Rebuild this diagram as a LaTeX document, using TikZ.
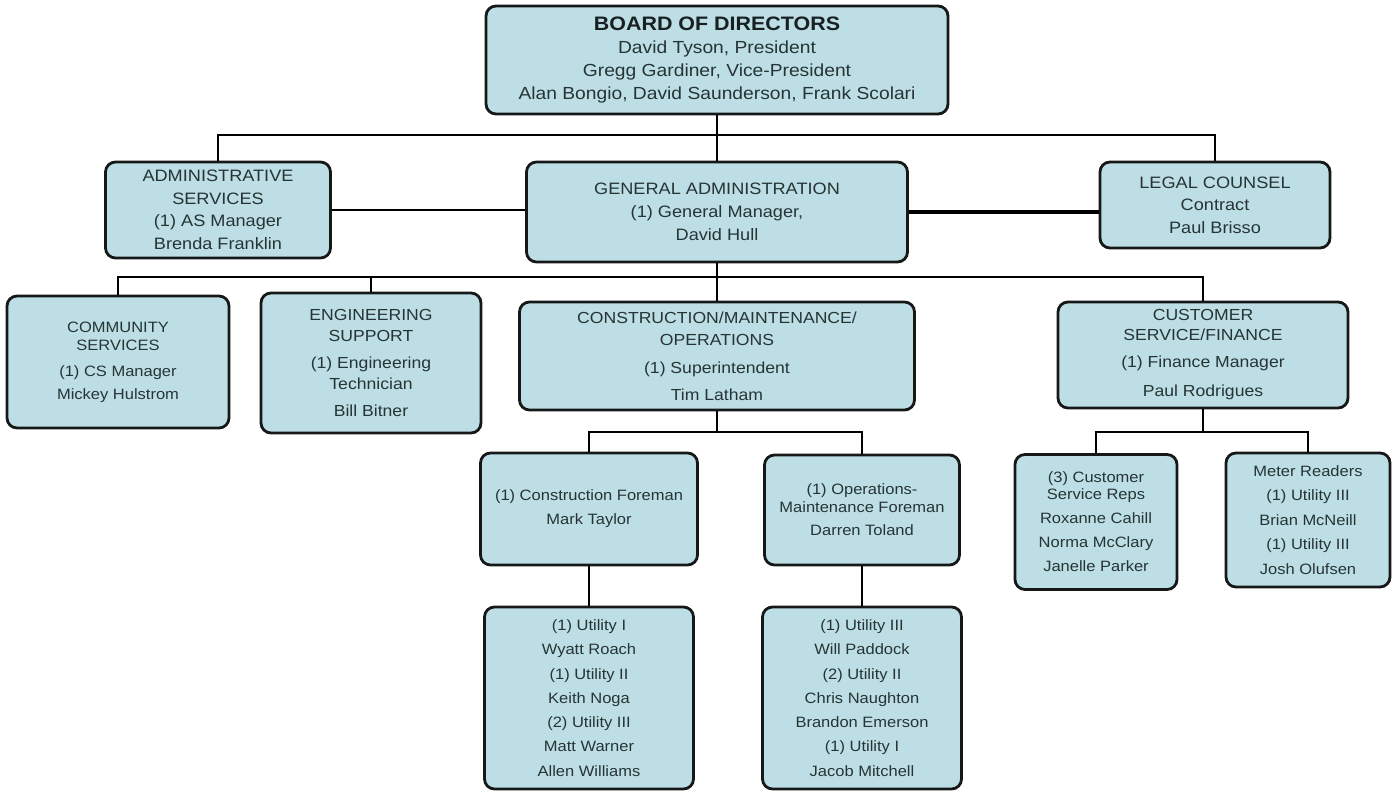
\documentclass[tikz,border=0pt]{standalone}
\usepackage{fontspec}
\setmainfont{Liberation Sans}[FakeStretch=1.1]
\definecolor{boxc}{RGB}{188,222,228}
\definecolor{txtc}{RGB}{38,52,54}
\definecolor{ttlc}{RGB}{24,32,34}
\definecolor{linec}{RGB}{22,24,24}
\newcommand{\fsz}[2]{\fontsize{#1}{#2}\selectfont}
\tikzset{
  orgbox/.style={draw=linec, line width=2.8pt, rounded corners=10pt, fill=boxc,
    text=txtc, align=center, inner sep=0pt},
  conn/.style={draw=black, line width=2.7pt},
  thickconn/.style={draw=black, line width=3.8pt}
}
\begin{document}
\begin{tikzpicture}[x=1pt,y=-1pt]
\useasboundingbox (0,0) rectangle (1395,792);
\fill[white] (0,0) rectangle (1395,792);

% junctions
\coordinate (j1) at (717,135);
\coordinate (j2) at (717,277);
\coordinate (j3) at (717,432);
\coordinate (j4) at (1203,432);

% nodes
\node[orgbox, minimum width=462pt, minimum height=108pt, font=\fsz{17.5}{23}] (board) at (717,60)
  {{\color{ttlc}\fontsize{19.5}{23}\selectfont\bfseries BOARD OF DIRECTORS}\\David Tyson, President\\Gregg Gardiner, Vice-President\\Alan Bongio, David Saunderson, Frank Scolari};

\node[orgbox, minimum width=225pt, minimum height=96pt, font=\fsz{16.5}{22.5}] (admin) at (218,210)
  {ADMINISTRATIVE\\SERVICES\\(1) AS Manager\\Brenda Franklin};
\node[orgbox, minimum width=381pt, minimum height=100pt, font=\fsz{16.5}{23}] (ga) at (717,212)
  {GENERAL ADMINISTRATION\\(1) General Manager,\\David Hull};
\node[orgbox, minimum width=230pt, minimum height=86pt, font=\fsz{16.5}{22.5}] (legal) at (1215,205)
  {LEGAL COUNSEL\\Contract\\Paul Brisso};

\node[orgbox, minimum width=222pt, minimum height=132pt, font=\fsz{15}{18}] (comm) at (118,362)
  {COMMUNITY\\SERVICES\\[8pt](1) CS Manager\\[5pt]Mickey Hulstrom};
\node[orgbox, minimum width=220pt, minimum height=140pt, font=\fsz{16}{20.5}] (eng) at (371,363)
  {ENGINEERING\\SUPPORT\\[7pt](1) Engineering\\Technician\\[6.5pt]Bill Bitner};
\node[orgbox, minimum width=395pt, minimum height=108pt, font=\fsz{16}{22}] (cmo) at (717,356)
  {CONSTRUCTION/MAINTENANCE/\\OPERATIONS\\[6pt](1) Superintendent\\[5pt]Tim Latham};
\node[orgbox, minimum width=290pt, minimum height=106pt, font=\fsz{16}{20}] (csf) at (1203,355)
  {CUSTOMER\\SERVICE/FINANCE\\[7pt](1) Finance Manager\\[9pt]Paul Rodrigues};

\node[orgbox, minimum width=217pt, minimum height=112pt, font=\fsz{15}{24}] (cf) at (589,509)
  {(1) Construction Foreman\\Mark Taylor};
\node[orgbox, minimum width=195pt, minimum height=110pt, font=\fsz{15}{18}] (ops) at (862,510)
  {(1) Operations-\\Maintenance Foreman\\[5pt]Darren Toland};
\node[orgbox, minimum width=162pt, minimum height=135pt, font=\fsz{15}{24}] (csr) at (1096,522)
  {(3) Customer\\[-7pt]Service Reps\\Roxanne Cahill\\Norma McClary\\Janelle Parker};
\node[orgbox, minimum width=164pt, minimum height=134pt, font=\fsz{15}{24.5}] (mr) at (1308,520)
  {Meter Readers\\(1) Utility III\\Brian McNeill\\(1) Utility III\\Josh Olufsen};

\node[orgbox, minimum width=209pt, minimum height=182pt, font=\fsz{15}{24.3}] (ut1) at (589,698)
  {(1) Utility I\\Wyatt Roach\\(1) Utility II\\Keith Noga\\(2) Utility III\\Matt Warner\\Allen Williams};
\node[orgbox, minimum width=199pt, minimum height=182pt, font=\fsz{15}{24.3}] (ut2) at (862,698)
  {(1) Utility III\\Will Paddock\\(2) Utility II\\Chris Naughton\\Brandon Emerson\\(1) Utility I\\Jacob Mitchell};

% connectors
\draw[conn] (board.south) -- (ga.north);
\draw[conn] (admin.north) |- (j1) -| (legal.north);
\draw[conn] (admin.east) -- (admin.east -| ga.west);
\draw[thickconn] (ga.east) -- (ga.east -| legal.west);
\draw[conn] (ga.south) -- (cmo.north);
\draw[conn] (comm.north) |- (j2) -| (csf.north);
\draw[conn] (eng.north) -- (eng.north |- j2);
\draw[conn] (cmo.south) -- (j3);
\draw[conn] (cf.north) |- (j3) -| (ops.north);
\draw[conn] (csf.south) -- (j4);
\draw[conn] (csr.north) |- (j4) -| (mr.north);
\draw[conn] (cf.south) -- (ut1.north);
\draw[conn] (ops.south) -- (ut2.north);
\end{tikzpicture}
\end{document}
